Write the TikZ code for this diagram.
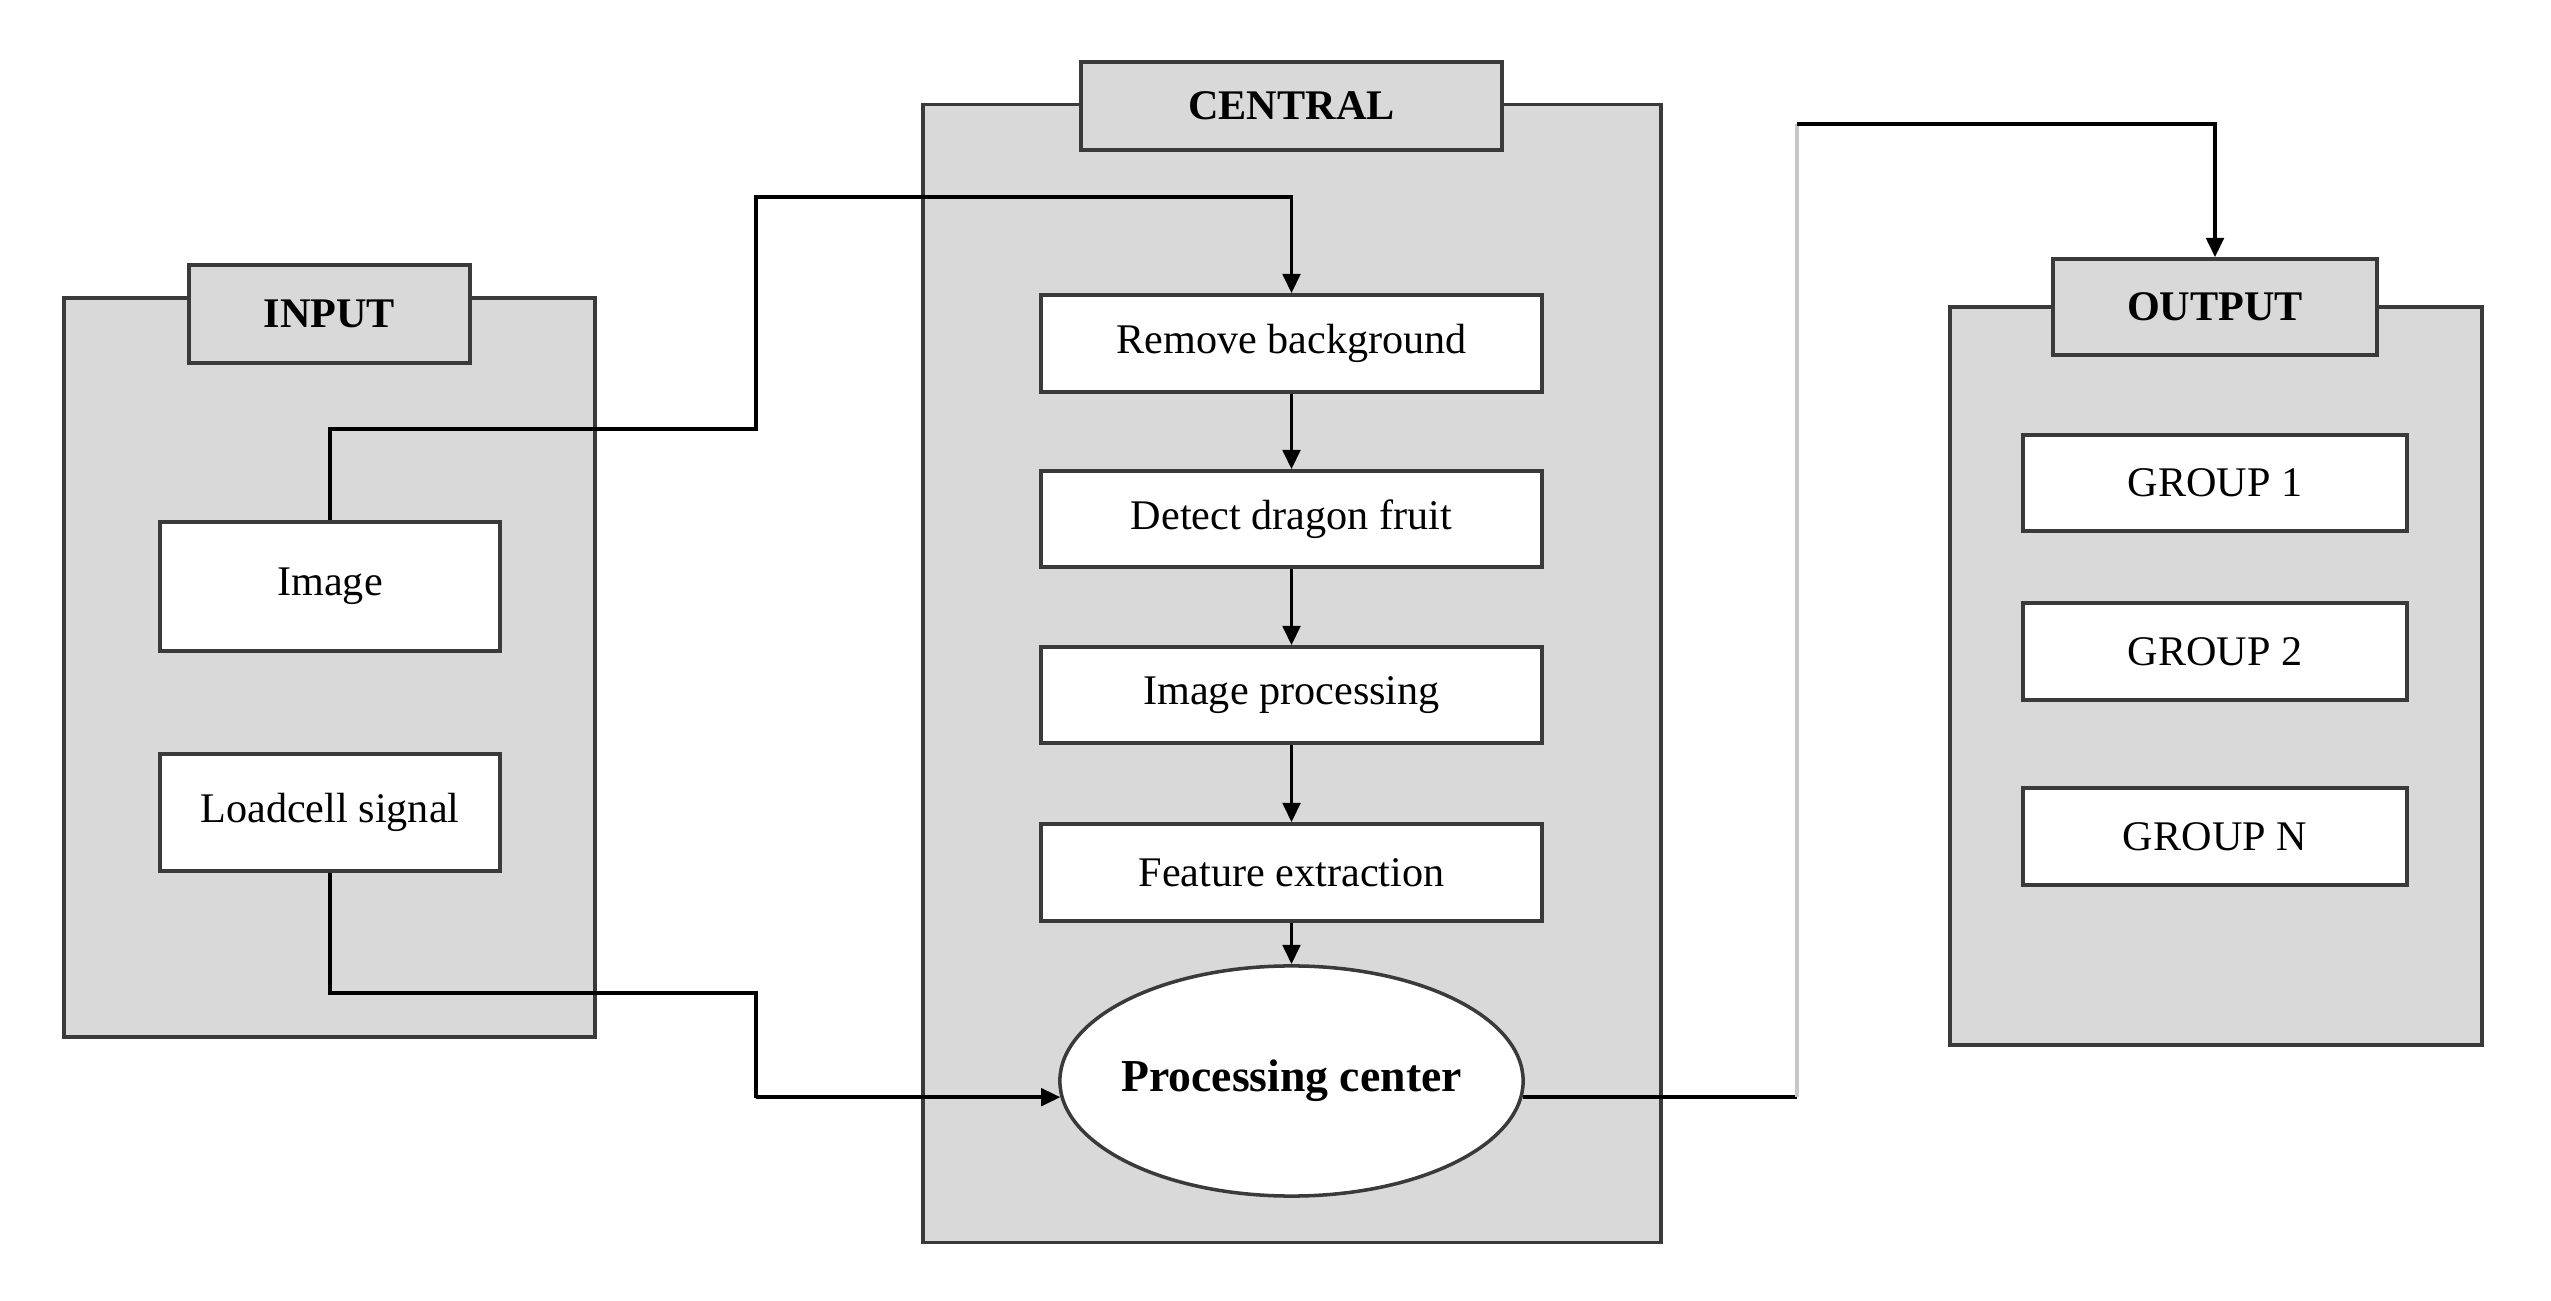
\documentclass[tikz,border=0pt]{standalone}
\usepackage{fontspec}
\setmainfont{Liberation Serif}
\usetikzlibrary{shapes.geometric,arrows.meta}
\definecolor{panelgray}{HTML}{D9D9D9}
\definecolor{edgegray}{HTML}{3A3A3A}
\begin{document}
\begin{tikzpicture}[x=0.01cm,y=-0.01cm,
  panel/.style={fill=panelgray,draw=edgegray,line width=1pt,inner sep=0pt},
  tab/.style={fill=panelgray,draw=edgegray,line width=1pt,inner sep=0pt,
    font=\fontsize{12}{14}\selectfont\bfseries},
  box/.style={fill=white,draw=edgegray,line width=1pt,inner sep=0pt,
    font=\fontsize{12}{14}\selectfont},
  conn/.style={line width=1pt,draw=black},
  arr/.style={conn,-{Triangle[length=5.5pt,width=5pt]}}]
\useasboundingbox (0,0) rectangle (2551,1301);

% panels
\node[panel,minimum width=5.31cm,minimum height=7.39cm] (inpanel) at (329.5,667.5) {};
\node[panel,minimum width=7.38cm,minimum height=11.37cm] (cenpanel) at (1292,673.5) {};
\node[panel,minimum width=5.32cm,minimum height=7.38cm] (outpanel) at (2216,676) {};

% tabs
\node[tab,minimum width=2.81cm,minimum height=0.98cm] (intab) at (329.5,314) {INPUT};
\node[tab,minimum width=4.21cm,minimum height=0.88cm] (centab) at (1291.5,106) {CENTRAL};
\node[tab,minimum width=3.24cm,minimum height=0.96cm] (outtab) at (2215,307) {OUTPUT};

% input boxes
\node[box,minimum width=3.40cm,minimum height=1.29cm] (img) at (330,586.5) {Image};
\node[box,minimum width=3.40cm,minimum height=1.17cm] (lc) at (330,812.5) {Loadcell signal};

% central boxes
\node[box,minimum width=5.01cm,minimum height=0.97cm] (rb) at (1291.5,343.5) {Remove background};
\node[box,minimum width=5.01cm,minimum height=0.96cm] (df) at (1291.5,519) {Detect dragon fruit};
\node[box,minimum width=5.01cm,minimum height=0.96cm] (ip) at (1291.5,695) {Image processing};
\node[box,minimum width=5.01cm,minimum height=0.97cm] (fe) at (1291.5,872.5) {Feature extraction};
\node[box,ellipse,inner xsep=-10pt,minimum width=4.63cm,minimum height=2.30cm,
  font=\fontsize{13}{15}\selectfont\bfseries] (pc) at (1291.5,1081) {Processing center};

% output boxes
\node[box,minimum width=3.84cm,minimum height=0.96cm] (g1) at (2215,483) {GROUP 1};
\node[box,minimum width=3.84cm,minimum height=0.97cm] (g2) at (2215,651.5) {GROUP 2};
\node[box,minimum width=3.84cm,minimum height=0.97cm] (gn) at (2215,836.5) {GROUP N};

% routing points
\coordinate (a1) at (330,429);
\coordinate (a2) at (756,197);
\coordinate (b1) at (330,993);
\coordinate (b2) at (756,1098);
\coordinate (cx) at (1797,124);
\coordinate (c1) at (pc.-4.25 -| cx);

% connectors
\draw[arr] (img.north) -- (a1) -| (a2) -| (rb.north);
\draw[arr] (lc.south) -- (b1) -| (b2) |- (pc.184.25);
\draw[conn] (pc.-4.25) -- (c1);
\draw[line width=1pt,draw=black!22] (c1) -- (cx);
\draw[arr] (cx) -| (outtab.north);

\draw[arr] (rb) -- (df);
\draw[arr] (df) -- (ip);
\draw[arr] (ip) -- (fe);
\draw[arr] (fe) -- (pc);
\end{tikzpicture}
\end{document}
